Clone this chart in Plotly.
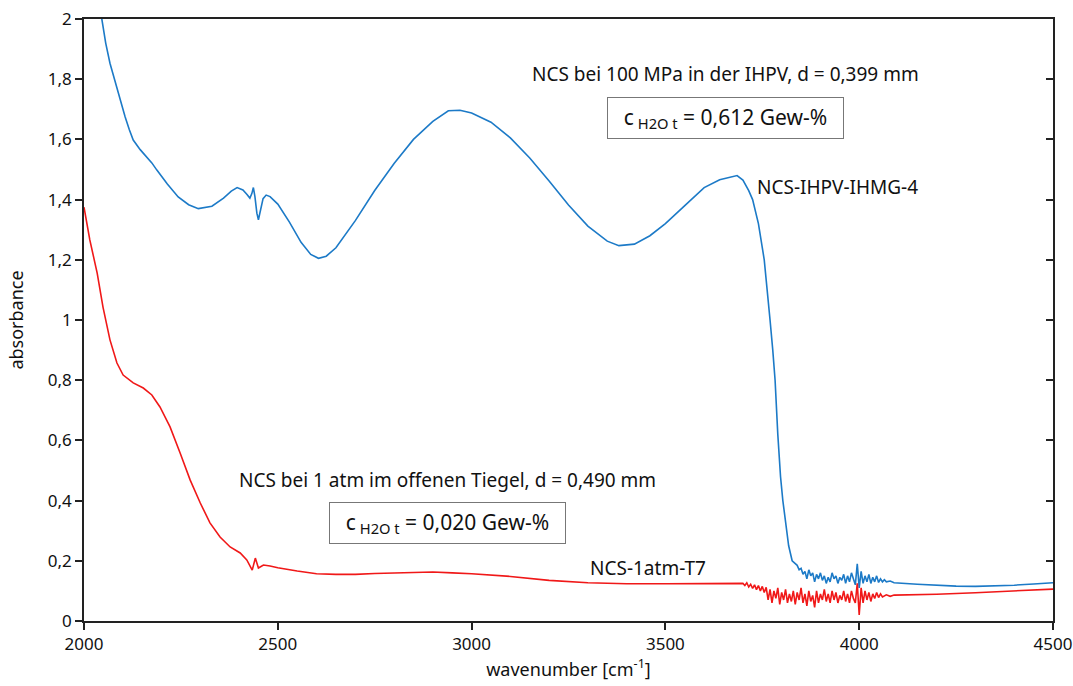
import plotly.graph_objects as go

# NCS-IHPV-IHMG-4 (blue)
blue_x = [2000, 2030, 2046, 2056, 2067, 2076, 2085, 2095, 2106, 2117, 2127, 2145, 2162, 2175, 2188, 2215, 2243, 2270, 2295, 2330, 2360, 2380,
          2395, 2410, 2420, 2428, 2433, 2437, 2441, 2446, 2450, 2455, 2462, 2470, 2480, 2500, 2530,
          2560, 2585, 2605, 2625, 2650, 2700, 2750, 2800, 2850, 2900, 2940, 2970, 3000, 3050, 3100,
          3150, 3200, 3250, 3300, 3350, 3380, 3420, 3460, 3500, 3550, 3600, 3640, 3670, 3685, 3700,
          3715, 3725, 3740, 3755, 3763, 3770, 3777, 3783, 3790, 3797, 3803, 3810, 3818, 3827, 3834,
          3840, 3845, 3850, 3855, 3860, 3865, 3870, 3875, 3880, 3885, 3890, 3895, 3900, 3905, 3910,
          3915, 3920, 3925, 3930, 3935, 3940, 3945, 3950, 3955, 3960, 3965, 3970, 3975, 3980, 3985,
          3990, 3995, 4000, 4005, 4010, 4015, 4020, 4025, 4030, 4035, 4040, 4045, 4050, 4055, 4060,
          4065, 4070, 4080, 4090, 4150, 4200, 4250, 4300, 4350, 4400, 4450, 4500]
blue_y = [2.40, 2.12, 2.00, 1.920, 1.853, 1.810, 1.774, 1.722, 1.675, 1.632, 1.598, 1.566, 1.542, 1.522, 1.498, 1.452, 1.409, 1.383, 1.370, 1.378, 1.405, 1.428,
          1.440, 1.432, 1.418, 1.405, 1.420, 1.440, 1.410, 1.355, 1.333, 1.360, 1.403, 1.415, 1.410, 1.385, 1.325,
          1.258, 1.218, 1.205, 1.212, 1.240, 1.330, 1.430, 1.520, 1.600, 1.660, 1.695, 1.697, 1.688, 1.657, 1.605,
          1.538, 1.462, 1.382, 1.312, 1.262, 1.247, 1.252, 1.280, 1.320, 1.380, 1.440, 1.466, 1.476, 1.480, 1.465,
          1.430, 1.400, 1.320, 1.200, 1.100, 1.000, 0.900, 0.800, 0.620, 0.480, 0.400, 0.320, 0.250, 0.200, 0.190,
          0.185, 0.170, 0.175, 0.155, 0.165, 0.140, 0.170, 0.150, 0.160, 0.130, 0.155, 0.140, 0.160, 0.135, 0.150,
          0.125, 0.145, 0.130, 0.160, 0.140, 0.150, 0.125, 0.145, 0.135, 0.155, 0.125, 0.150, 0.130, 0.160, 0.140,
          0.120, 0.190, 0.110, 0.165, 0.125, 0.150, 0.130, 0.155, 0.125, 0.145, 0.130, 0.150, 0.128, 0.140, 0.130,
          0.137, 0.130, 0.133, 0.127, 0.122, 0.118, 0.116, 0.115, 0.116, 0.119, 0.123, 0.127]

# NCS-1atm-T7 (red)
red_x = [2000, 2015, 2034, 2049, 2067, 2085, 2101, 2127, 2153, 2175, 2196, 2222, 2248, 2274, 2300,
         2325, 2351, 2377, 2403, 2420, 2434, 2442, 2450, 2463, 2480, 2500, 2550, 2600, 2650, 2700,
         2750, 2800, 2850, 2900, 2950, 3000, 3100, 3200, 3300, 3400, 3500, 3600, 3650,
         3700, 3705, 3710, 3715, 3720, 3725, 3730, 3735, 3740, 3745, 3750, 3755, 3760, 3765, 3770,
         3775, 3780, 3785, 3790, 3795, 3800, 3805, 3810, 3815, 3820, 3825, 3830, 3835, 3840, 3845,
         3850, 3855, 3860, 3865, 3870, 3875, 3880, 3885, 3890, 3895, 3900, 3905, 3910, 3915, 3920,
         3925, 3930, 3935, 3940, 3945, 3950, 3955, 3960, 3965, 3970, 3975, 3980, 3985, 3990, 3995,
         4000, 4005, 4010, 4015, 4020, 4025, 4030, 4035, 4040, 4045, 4050, 4055, 4060, 4070, 4080,
         4090, 4150, 4200, 4300, 4400, 4500]
red_y = [1.375, 1.266, 1.156, 1.043, 0.934, 0.857, 0.817, 0.791, 0.774, 0.751, 0.711, 0.645, 0.558, 0.468, 0.392,
         0.326, 0.279, 0.246, 0.226, 0.203, 0.169, 0.209, 0.176, 0.186, 0.183, 0.177, 0.166, 0.157, 0.155, 0.155,
         0.158, 0.160, 0.163, 0.163, 0.160, 0.157, 0.148, 0.135, 0.127, 0.124, 0.124, 0.125, 0.124,
         0.125, 0.118, 0.127, 0.113, 0.122, 0.108, 0.120, 0.104, 0.118, 0.100, 0.115, 0.095, 0.112, 0.070, 0.105,
         0.060, 0.100, 0.075, 0.110, 0.055, 0.095, 0.070, 0.105, 0.060, 0.090, 0.065, 0.100, 0.055, 0.095, 0.070,
         0.110, 0.060, 0.090, 0.050, 0.100, 0.065, 0.085, 0.045, 0.100, 0.060, 0.090, 0.070, 0.105, 0.065, 0.090,
         0.060, 0.100, 0.070, 0.095, 0.060, 0.085, 0.070, 0.100, 0.065, 0.090, 0.060, 0.100, 0.075, 0.060, 0.125,
         0.020, 0.110, 0.060, 0.100, 0.070, 0.095, 0.065, 0.090, 0.075, 0.095, 0.078, 0.090, 0.080, 0.087, 0.082,
         0.086, 0.087, 0.089, 0.094, 0.100, 0.106]

x_ticks = [2000, 2500, 3000, 3500, 4000, 4500]
y_ticks = [0, 0.2, 0.4, 0.6, 0.8, 1, 1.2, 1.4, 1.6, 1.8, 2]

FONT = "Noto Sans"

fig = go.Figure()
fig.add_trace(go.Scatter(x=blue_x, y=blue_y, mode="lines", name="NCS-IHPV-IHMG-4",
                         line=dict(color="#1c7ac7", width=1.6)))
fig.add_trace(go.Scatter(x=red_x, y=red_y, mode="lines", name="NCS-1atm-T7", yaxis="y2",
                         line=dict(color="#f01818", width=1.6)))

annos = [
    dict(x=3654, y=1.817, text="NCS bei 100 MPa in der IHPV, d = 0,399 mm", showarrow=False,
         font=dict(size=19, color="#111")),
    dict(x=3654, y=1.671, text="c<sub> H2O t</sub> = 0,612 Gew-%", showarrow=False,
         font=dict(size=21, color="#111"), bordercolor="#777", borderwidth=1, borderpad=3,
         width=229, height=34, bgcolor="white"),
    dict(x=3731, y=1.442, text="NCS-IHPV-IHMG-4", showarrow=False, xanchor="left",
         font=dict(size=19, color="#111")),
    dict(x=2939, y=0.468, text="NCS bei 1 atm im offenen Tiegel, d = 0,490 mm", showarrow=False,
         font=dict(size=19, color="#111")),
    dict(x=2937, y=0.326, text="c<sub> H2O t</sub> = 0,020 Gew-%", showarrow=False,
         font=dict(size=21, color="#111"), bordercolor="#777", borderwidth=1, borderpad=3,
         width=229, height=34, bgcolor="white"),
    dict(x=3300, y=0.176, text="NCS-1atm-T7", showarrow=False, xanchor="left",
         font=dict(size=19, color="#111")),
]

fig.update_layout(
    width=1073, height=686,
    margin=dict(l=84, r=20, t=19, b=65),
    paper_bgcolor="white", plot_bgcolor="white",
    showlegend=False,
    separators=", ",
    font=dict(family=FONT, size=16, color="#111"),
    annotations=annos,
    xaxis=dict(range=[2000, 4500], tickvals=x_ticks, ticks="outside", ticklen=7, tickwidth=1.5,
               tickcolor="#222", showline=True, linecolor="#222", linewidth=1.5, mirror=True,
               showgrid=False, zeroline=False, tickfont=dict(size=17), automargin=False,
               title=dict(text="wavenumber [cm<sup>-1</sup>]", font=dict(size=18), standoff=6)),
    yaxis=dict(range=[0, 2], tickvals=y_ticks, ticks="outside", ticklen=7, tickwidth=1.5,
               tickcolor="#222", showline=True, linecolor="#222", linewidth=1.5, mirror=True,
               showgrid=False, zeroline=False, tickfont=dict(size=17), tickformat=".1~f",
               automargin=False,
               title=dict(text="absorbance", font=dict(size=18), standoff=20)),
    yaxis2=dict(overlaying="y", side="right", matches="y", tickvals=y_ticks, ticks="inside",
                ticklen=7, tickwidth=1.5, tickcolor="#222", showticklabels=False,
                showgrid=False, zeroline=False, showline=False, automargin=False),
)

fig.write_html("out.html")
